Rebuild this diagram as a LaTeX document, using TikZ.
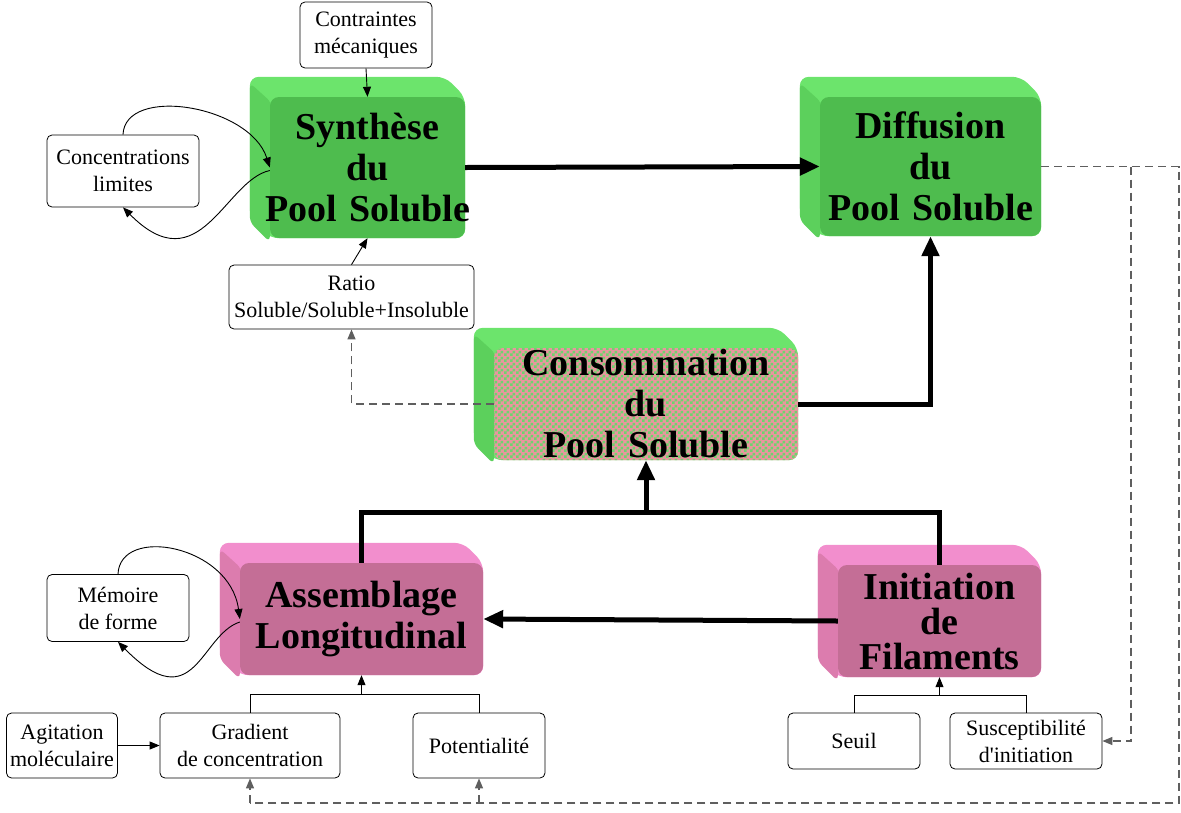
\documentclass[tikz,border=0pt]{standalone}
\usepackage{fontspec}
\setmainfont{Liberation Serif}
\usetikzlibrary{arrows.meta,patterns,backgrounds}

\definecolor{vertface}{RGB}{78,188,78}
\definecolor{vertdessus}{RGB}{108,228,108}
\definecolor{vertcote}{RGB}{92,208,92}
\definecolor{vertdamier}{RGB}{110,212,110}
\definecolor{roseface}{RGB}{196,110,150}
\definecolor{rosedessus}{RGB}{242,142,205}
\definecolor{rosecote}{RGB}{220,124,174}
\definecolor{saumon}{RGB}{232,150,158}
\definecolor{pointille}{RGB}{95,95,95}

% damier fin pour la consommation
\pgfdeclarepatternformonly{damier}{\pgfpointorigin}{\pgfqpoint{6pt}{6pt}}{\pgfqpoint{6pt}{6pt}}{%
  \pgfpathrectangle{\pgfpointorigin}{\pgfqpoint{3.05pt}{3.05pt}}%
  \pgfpathrectangle{\pgfqpoint{3pt}{3pt}}{\pgfqpoint{3.05pt}{3.05pt}}%
  \pgfusepath{fill}}

\tikzset{
  bloc/.style={rounded corners=9pt,inner sep=0pt,align=center,
    font=\fontsize{38}{41}\selectfont\bfseries},
  facteur/.style={draw,rounded corners=5pt,fill=white,inner sep=0pt,align=center,
    line width=0.8pt,font=\fontsize{22}{27}\selectfont},
  fleche/.style={-{Triangle[length=10pt,width=8pt]},line width=0.9pt},
  grossefleche/.style={-{Triangle[length=20pt,width=17pt]},line width=5pt},
  retour/.style={draw=pointille,line width=1.3pt,dash pattern=on 8pt off 5pt},
}

% relief d'un bloc : dessus et cote, decales de 20pt en haut a gauche
\newcommand{\relief}[3]{%
  \fill[#2,rounded corners=9pt] (#1.south west)
    -- ([xshift=-20pt,yshift=20pt]#1.south west)
    -- ([xshift=-20pt,yshift=20pt]#1.north west)
    -- ([xshift=-20pt,yshift=20pt]#1.north east)
    -- (#1.north east) -- (#1.south east) -- cycle;
  \fill[#3,rounded corners=6pt] ([yshift=-4pt]#1.south west)
    -- ([xshift=-20pt,yshift=16pt]#1.south west)
    -- ([xshift=-20pt,yshift=14pt]#1.north west)
    -- ([xshift=2pt,yshift=-6pt]#1.north west) -- cycle;
}

\begin{document}
\begin{tikzpicture}[x=1pt,y=-1pt]
  \useasboundingbox (0,0) rectangle (1181,812);

  % blocs principaux
  \node[bloc,fill=vertface,text width=195pt,minimum height=141pt] (synth) at (367.5,167.5) {Synthèse\\du\\\makebox[0pt]{Pool Soluble}};
  \node[bloc,fill=vertface,text width=221pt,minimum height=139pt] (diff) at (930.5,166.5) {Diffusion\\du\\Pool Soluble};
  \node[bloc,fill=saumon,postaction={pattern=damier,pattern color=vertdamier},
    text width=304pt,minimum height=112pt] (conso) at (646,404) {Consommation\\du\\Pool Soluble};
  \node[bloc,fill=roseface,text width=243pt,minimum height=112pt] (assem) at (361.5,619) {Assemblage\\Longitudinal};
  \node[bloc,fill=roseface,text width=203pt,minimum height=112pt,
    font=\fontsize{38}{35}\selectfont\bfseries] (initi) at (939.5,621) {Initiation\\de\\Filaments};

  \begin{scope}[on background layer]
    \relief{synth}{vertdessus}{vertcote}
    \relief{diff}{vertdessus}{vertcote}
    \relief{conso}{vertdessus}{vertcote}
    \relief{assem}{rosedessus}{rosecote}
    \relief{initi}{rosedessus}{rosecote}
  \end{scope}

  % facteurs
  \node[facteur,minimum width=132pt,minimum height=66pt] (contr) at (366,35) {Contraintes\\mécaniques};
  \node[facteur,minimum width=152pt,minimum height=72pt] (concl) at (123,171) {Concentrations\\limites};
  \node[facteur,minimum width=245pt,minimum height=64pt] (ratio) at (351.5,297) {Ratio\\Soluble/Soluble+Insoluble};
  \node[facteur,minimum width=142pt,minimum height=67pt] (memo) at (118,608) {Mémoire\\de forme};
  \node[facteur,minimum width=111pt,minimum height=65pt] (agit) at (62,745.5) {Agitation\\moléculaire};
  \node[facteur,minimum width=180pt,minimum height=65pt] (grad) at (250,745.5) {Gradient\\de concentration};
  \node[facteur,minimum width=132pt,minimum height=65pt] (poten) at (479,745.5) {Potentialité};
  \node[facteur,minimum width=132pt,minimum height=56pt] (seuil) at (854,741) {Seuil};
  \node[facteur,minimum width=152pt,minimum height=56pt] (susc) at (1026,741) {Susceptibilité\\d\textquotesingle initiation};

  \coordinate (jconso) at (646,512);
  \coordinate (jassem) at (361.5,694);
  \coordinate (jiniti) at (939.5,695);
  \coordinate (dcoin) at (1179,166.5);
  \coordinate (dbranche) at (1131,166.5);
  \coordinate (dbas) at (1179,803);

  % liaisons fortes
  \draw[grossefleche] (synth.east) -- (diff.west);
  \draw[grossefleche] (conso.east) -| (diff.south);
  \draw[line width=5pt] (assem.north) |- (jconso) -| (initi.north);
  \draw[grossefleche] (jconso) -- (conso.south);
  \draw[grossefleche] (initi.west) -- (assem.east);

  % influences
  \draw[fleche] (contr.south) -- (synth.north);
  \draw[fleche] (ratio.north) -- (synth.south);
  \draw[fleche] (concl.north) .. controls (125,85) and (250,105) .. (synth.west);
  \draw[fleche] ([yshift=-3pt]synth.west) .. controls (225,180) and (200,285) .. (concl.south);
  \draw[fleche] (memo.north) .. controls (120,525) and (230,545) .. (assem.west);
  \draw[fleche] ([yshift=-3pt]assem.west) .. controls (200,635) and (195,720) .. (memo.south);
  \draw[line width=0.9pt] (grad.north) |- (jassem) -| (poten.north);
  \draw[fleche] (jassem) -- (assem.south);
  \draw[line width=0.9pt] (seuil.north) |- (jiniti) -| (susc.north);
  \draw[fleche] (jiniti) -- (initi.south);
  \draw[fleche] (agit.east) -- (grad.west);

  % retroactions
  \draw[retour,-{Triangle[length=10pt,width=8pt]}] (conso.west) -| (ratio.south);
  \draw[retour] (diff.east) -- (dcoin) -- (dbas) -- (grad.south |- dbas);
  \draw[retour,-{Triangle[length=10pt,width=8pt]}] (dbranche) |- (susc.east);
  \draw[retour,-{Triangle[length=10pt,width=8pt]}] (grad.south |- dbas) -- (grad.south);
  \draw[retour,-{Triangle[length=10pt,width=8pt]}] (poten.south |- dbas) -- (poten.south);
\end{tikzpicture}
\end{document}
